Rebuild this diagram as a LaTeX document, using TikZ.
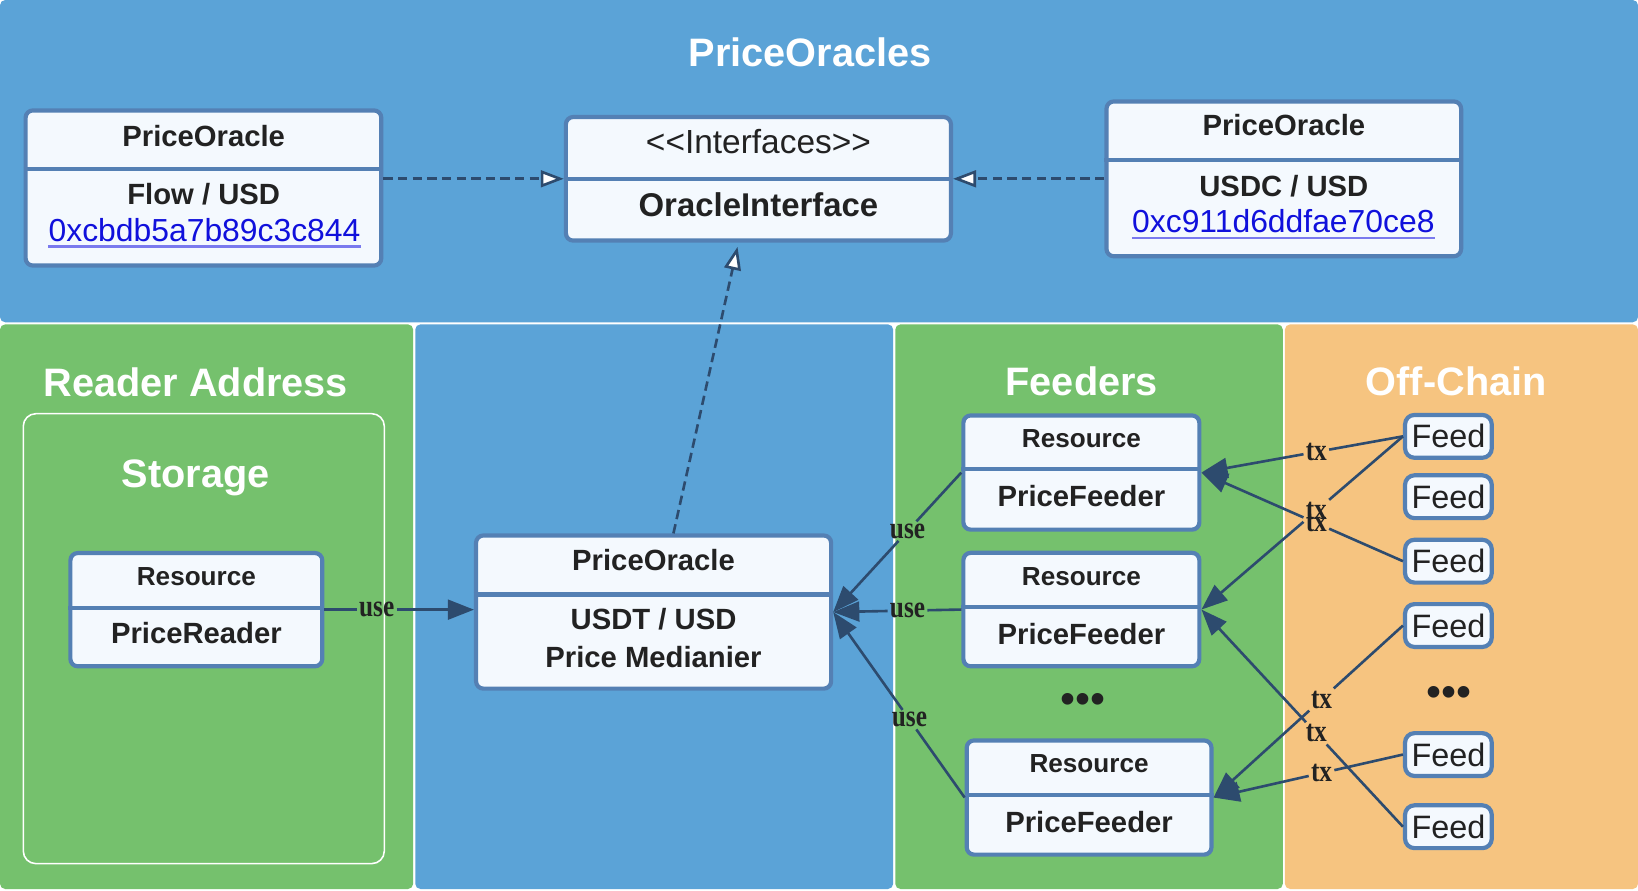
\documentclass[tikz,border=0pt]{standalone}
\usepackage{fontspec}
\setmainfont{Liberation Sans}
\newfontfamily\rawsans{Liberation Sans}
\newfontfamily\lblfont[FakeStretch=0.82]{Liberation Serif}
\usetikzlibrary{arrows.meta}
\definecolor{pblue}{RGB}{91,163,215}
\definecolor{pgreen}{RGB}{117,193,109}
\definecolor{porange}{RGB}{246,196,128}
\definecolor{boxf}{RGB}{244,249,254}
\definecolor{boxc}{RGB}{84,128,180}
\definecolor{arrc}{RGB}{45,75,110}
\definecolor{txtc}{RGB}{34,34,34}
\definecolor{linkc}{RGB}{16,16,220}
\definecolor{ulc}{RGB}{122,122,238}
\tikzset{
  panel/.style={rounded corners=5pt},
  box/.style={draw=boxc, line width=4pt, fill=boxf, rounded corners=7pt, inner sep=0pt},
  feedbox/.style={box, rounded corners=9pt, minimum width=83pt, minimum height=41pt, text=txtc, font=\fontsize{31}{36}\selectfont},
  divline/.style={draw=boxc, line width=4pt},
  head/.style={text=white, anchor=base, font=\fontsize{38}{44}\selectfont\bfseries},
  btxt/.style={text=txtc, anchor=base, inner sep=0pt, font=\fontsize{28}{33}\selectfont\bfseries},
  rtxt/.style={text=txtc, anchor=base, inner sep=0pt, font=\fontsize{25}{30}\selectfont\bfseries},
  itxt/.style={text=txtc, anchor=base, inner sep=0pt, font=\rawsans\fontsize{32}{37}\selectfont},
  ibtxt/.style={text=txtc, anchor=base, inner sep=0pt, font=\fontsize{31.5}{37}\selectfont\bfseries},
  lnk/.style={text=linkc, anchor=base, inner sep=0pt, font=\fontsize{30.5}{36}\selectfont},
  uline/.style={draw=ulc, line width=2pt},
  dots/.style={text=txtc, inner sep=0pt, font=\fontsize{41}{44}\selectfont},
  seg/.style={draw=arrc, line width=2.5pt},
  conn/.style={seg, -{Triangle[length=25pt,width=19pt]}},
  realize/.style={draw=arrc, line width=2.5pt, dash pattern=on 9pt off 5pt, -{Triangle[length=22pt,width=16pt,fill=white]}},
  lbl/.style={text=txtc, inner sep=2pt, font=\lblfont\bfseries\fontsize{29.5}{30}\selectfont},
}
\newcommand\umlbox[6]{%
  \node[box, minimum width={(#4-#2-4)*1pt}, minimum height={(#5-#3-4)*1pt}] (#1) at ({(#2+#4)/2},{(#3+#5)/2}) {};
  \draw[divline] (#1.west |- 0,#6) -- (#1.east |- 0,#6);
}
\begin{document}
\begin{tikzpicture}[x=1pt,y=-1pt]
\useasboundingbox (0,0) rectangle (1568,852);
\fill[white] (0,0) rectangle (1568,852);
% panels
\fill[panel, pblue] (0,0) rectangle (1568,308.5);
\fill[panel, pgreen] (0,310.5) rectangle (395.5,851);
\fill[panel, pblue] (397.5,310.5) rectangle (855,851);
\fill[panel, pgreen] (857,310.5) rectangle (1228,851);
\fill[panel, porange] (1230,310.5) rectangle (1568,851);
\draw[white, line width=1.5pt, rounded corners=12pt] (22.3,396) rectangle (367.9,826.7);
% headings
\node[head] (hpo) at (775.5,64) {PriceOracles};
\node[head] (hra) at (187.5,380) {Reader Address};
\node[head] (hst) at (187.5,466.5) {Storage};
\node[head] (hfd) at (1035.5,379) {Feeders};
\node[head] (hoc) at (1394,379) {Off-Chain};
% top boxes
\umlbox{po1}{22.5}{103.7}{367}{256.2}{162}
\node[btxt] (po1a) at (195,140) {PriceOracle};
\node[btxt] (po1b) at (195,195.5) {Flow / USD};
\node[lnk] (po1c) at (195.8,231) {0xcbdb5a7b89c3c844};
\draw[uline] ([yshift=-5pt]po1c.base west) -- ([yshift=-5pt]po1c.base east);
\umlbox{iface}{539.7}{110}{912.3}{232.3}{171.7}
\node[itxt] (ifa) at (726,146.5) {<\kern0pt<Interfaces>\kern0pt>};
\node[ibtxt] (ifb) at (726,207.5) {OracleInterface};
\umlbox{po2}{1057.2}{95.1}{1400.7}{247.3}{153.2}
\node[btxt] (po2a) at (1229,130) {PriceOracle};
\node[btxt] (po2b) at (1229,188) {USDC / USD};
\node[lnk] (po2c) at (1228.5,222.7) {0xc911d6ddfae70ce8};
\draw[uline] ([yshift=-5pt]po2c.base west) -- ([yshift=-5pt]po2c.base east);
% middle
\umlbox{rdr}{65.4}{527.4}{310.5}{639.8}{582}
\node[rtxt] (rdra) at (188,560) {Resource};
\node[btxt] (rdrb) at (188,616) {PriceReader};
\umlbox{med}{453.7}{510.6}{797.6}{661.2}{569}
\node[btxt] (meda) at (625.6,546) {PriceOracle};
\node[btxt] (medb) at (625.6,603) {USDT / USD};
\node[btxt] (medc) at (625.6,639) {Price Medianier};
% feeders
\umlbox{fd1}{920.2}{395.7}{1150.1}{509}{449.3}
\node[rtxt] (fd1a) at (1035.2,428) {Resource};
\node[btxt] (fd1b) at (1035.2,485) {PriceFeeder};
\umlbox{fd2}{920.2}{527.2}{1150.1}{639.8}{581.4}
\node[rtxt] (fd2a) at (1035.2,560) {Resource};
\node[btxt] (fd2b) at (1035.2,616.5) {PriceFeeder};
\umlbox{fd3}{923.4}{706.8}{1161.7}{820.1}{761}
\node[rtxt] (fd3a) at (1042.5,739.7) {Resource};
\node[btxt] (fd3b) at (1042.5,796.8) {PriceFeeder};
\node[dots] (dot1) at (1037,673) {•••};
% feeds
\node[feedbox] (f1) at (1386.5,417.7) {Feed};
\node[feedbox] (f2) at (1386.5,475.5) {Feed};
\node[feedbox] (f3) at (1386.5,537.2) {Feed};
\node[feedbox] (f4) at (1386.5,598.8) {Feed};
\node[feedbox] (f5) at (1386.5,722.3) {Feed};
\node[feedbox] (f6) at (1386.5,791.4) {Feed};
\node[dots] (dot2) at (1387.5,667) {•••};
% realization arrows
\draw[realize] (po1.east |- iface.west) -- (iface.west);
\draw[realize] (po2.west |- iface.east) -- (iface.east);
\draw[realize] ([xshift=19pt]med.north) -- ([xshift=-20pt,yshift=-4pt]iface.south);
% label nodes on the connector lines
\path (rdr.east) -- node[lbl, pos=0.35] (lu0) {use} (rdr.east -| med.west);
\path (fd1.west) -- node[lbl, pos=0.42] (lu1) {use} (med.east);
\path (fd2.west) -- node[lbl, pos=0.42] (lu2) {use} (med.east);
\path (fd3.west) -- node[lbl, pos=0.42] (lu3) {use} (med.east);
\path (f1.west) -- node[lbl, pos=0.43] (lt1) {tx} (fd1.east);
\path (f3.west) -- node[lbl, pos=0.43] (lt2) {tx} (fd1.east);
\path (f1.west) -- node[lbl, pos=0.43] (lt3) {tx} (fd2.east);
\path (f6.west) -- node[lbl, pos=0.43] (lt4) {tx} (fd2.east);
\path (f4.west) -- node[lbl, pos=0.43] (lt5) {tx} (fd3.east);
\path (f5.west) -- node[lbl, pos=0.43] (lt6) {tx} (fd3.east);
% use connectors (broken around their labels)
\draw[seg] (rdr.east) -- (lu0);
\draw[conn] (lu0) -- (rdr.east -| med.west);
\draw[seg] (fd1.west) -- (lu1);
\draw[conn] (lu1) -- (med.east);
\draw[seg] (fd2.west) -- (lu2);
\draw[conn] (lu2) -- (med.east);
\draw[seg] (fd3.west) -- (lu3);
\draw[conn] (lu3) -- (med.east);
% tx connectors
\draw[seg] (f1.west) -- (lt1);
\draw[conn] (lt1) -- (fd1.east);
\draw[seg] (f3.west) -- (lt2);
\draw[conn] (lt2) -- (fd1.east);
\draw[seg] (f1.west) -- (lt3);
\draw[conn] (lt3) -- (fd2.east);
\draw[seg] (f6.west) -- (lt4);
\draw[conn] (lt4) -- (fd2.east);
\draw[seg] (f4.west) -- (lt5);
\draw[conn] (lt5) -- (fd3.east);
\draw[seg] (f5.west) -- (lt6);
\draw[conn] (lt6) -- (fd3.east);
\end{tikzpicture}
\end{document}
